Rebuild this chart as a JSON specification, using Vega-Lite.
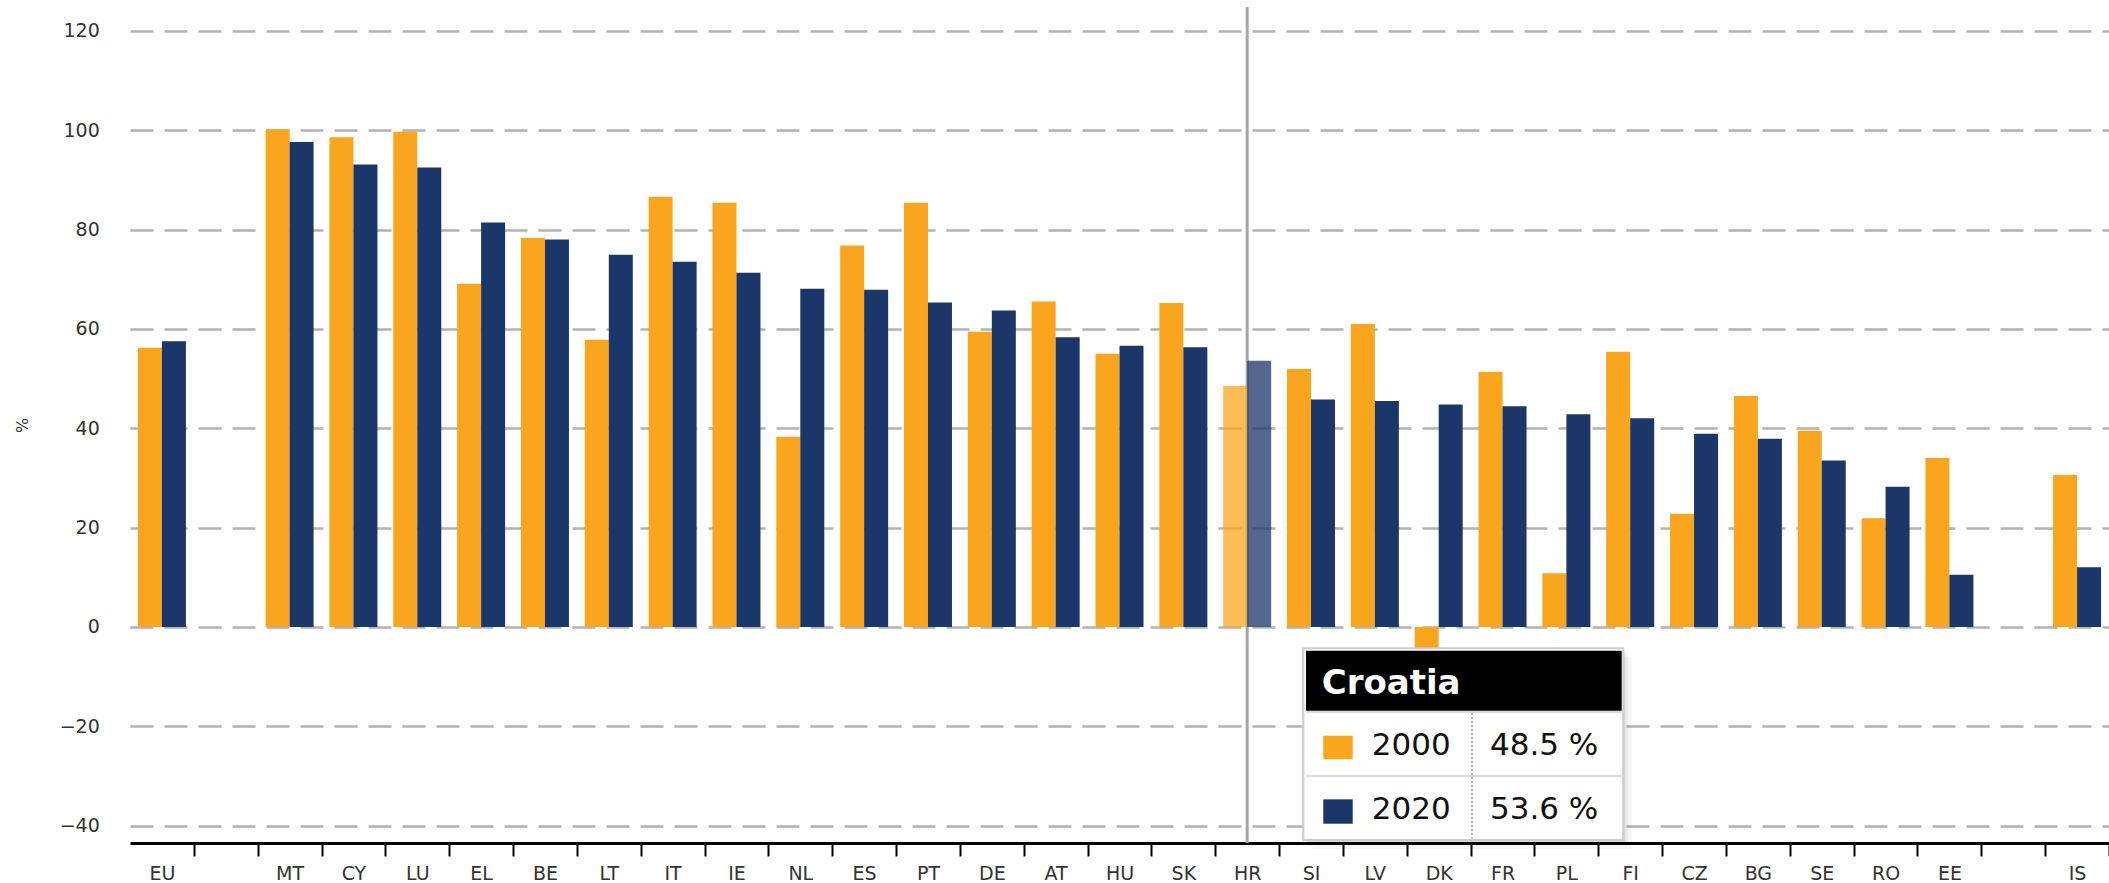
{
  "$schema": "https://vega.github.io/schema/vega-lite/v6.json",
  "autosize": "none",
  "padding": {"left": 126, "top": 7, "right": 0, "bottom": 40},
  "width": 1983,
  "height": 836,
  "background": "white",
  "config": {"view": {"stroke": null}, "font": "DejaVu Sans"},
  "data": {"values": [
    {"country": "EU", "name": "European Union", "year": "2000", "value": 56.2},
    {"country": "EU", "name": "European Union", "year": "2020", "value": 57.5},
    {"country": "MT", "name": "Malta", "year": "2000", "value": 100.2},
    {"country": "MT", "name": "Malta", "year": "2020", "value": 97.6},
    {"country": "CY", "name": "Cyprus", "year": "2000", "value": 98.6},
    {"country": "CY", "name": "Cyprus", "year": "2020", "value": 93.1},
    {"country": "LU", "name": "Luxembourg", "year": "2000", "value": 99.7},
    {"country": "LU", "name": "Luxembourg", "year": "2020", "value": 92.5},
    {"country": "EL", "name": "Greece", "year": "2000", "value": 69.1},
    {"country": "EL", "name": "Greece", "year": "2020", "value": 81.4},
    {"country": "BE", "name": "Belgium", "year": "2000", "value": 78.3},
    {"country": "BE", "name": "Belgium", "year": "2020", "value": 78.0},
    {"country": "LT", "name": "Lithuania", "year": "2000", "value": 57.8},
    {"country": "LT", "name": "Lithuania", "year": "2020", "value": 74.9},
    {"country": "IT", "name": "Italy", "year": "2000", "value": 86.6},
    {"country": "IT", "name": "Italy", "year": "2020", "value": 73.5},
    {"country": "IE", "name": "Ireland", "year": "2000", "value": 85.4},
    {"country": "IE", "name": "Ireland", "year": "2020", "value": 71.3},
    {"country": "NL", "name": "Netherlands", "year": "2000", "value": 38.3},
    {"country": "NL", "name": "Netherlands", "year": "2020", "value": 68.1},
    {"country": "ES", "name": "Spain", "year": "2000", "value": 76.8},
    {"country": "ES", "name": "Spain", "year": "2020", "value": 67.9},
    {"country": "PT", "name": "Portugal", "year": "2000", "value": 85.4},
    {"country": "PT", "name": "Portugal", "year": "2020", "value": 65.3},
    {"country": "DE", "name": "Germany", "year": "2000", "value": 59.4},
    {"country": "DE", "name": "Germany", "year": "2020", "value": 63.7},
    {"country": "AT", "name": "Austria", "year": "2000", "value": 65.5},
    {"country": "AT", "name": "Austria", "year": "2020", "value": 58.3},
    {"country": "HU", "name": "Hungary", "year": "2000", "value": 55.0},
    {"country": "HU", "name": "Hungary", "year": "2020", "value": 56.6},
    {"country": "SK", "name": "Slovakia", "year": "2000", "value": 65.2},
    {"country": "SK", "name": "Slovakia", "year": "2020", "value": 56.3},
    {"country": "HR", "name": "Croatia", "year": "2000", "value": 48.5},
    {"country": "HR", "name": "Croatia", "year": "2020", "value": 53.6},
    {"country": "SI", "name": "Slovenia", "year": "2000", "value": 51.9},
    {"country": "SI", "name": "Slovenia", "year": "2020", "value": 45.8},
    {"country": "LV", "name": "Latvia", "year": "2000", "value": 61.0},
    {"country": "LV", "name": "Latvia", "year": "2020", "value": 45.5},
    {"country": "DK", "name": "Denmark", "year": "2000", "value": -35.0},
    {"country": "DK", "name": "Denmark", "year": "2020", "value": 44.8},
    {"country": "FR", "name": "France", "year": "2000", "value": 51.3},
    {"country": "FR", "name": "France", "year": "2020", "value": 44.4},
    {"country": "PL", "name": "Poland", "year": "2000", "value": 10.8},
    {"country": "PL", "name": "Poland", "year": "2020", "value": 42.8},
    {"country": "FI", "name": "Finland", "year": "2000", "value": 55.4},
    {"country": "FI", "name": "Finland", "year": "2020", "value": 42.0},
    {"country": "CZ", "name": "Czechia", "year": "2000", "value": 22.8},
    {"country": "CZ", "name": "Czechia", "year": "2020", "value": 38.9},
    {"country": "BG", "name": "Bulgaria", "year": "2000", "value": 46.5},
    {"country": "BG", "name": "Bulgaria", "year": "2020", "value": 37.9},
    {"country": "SE", "name": "Sweden", "year": "2000", "value": 39.5},
    {"country": "SE", "name": "Sweden", "year": "2020", "value": 33.5},
    {"country": "RO", "name": "Romania", "year": "2000", "value": 21.9},
    {"country": "RO", "name": "Romania", "year": "2020", "value": 28.2},
    {"country": "EE", "name": "Estonia", "year": "2000", "value": 34.0},
    {"country": "EE", "name": "Estonia", "year": "2020", "value": 10.5},
    {"country": "IS", "name": "Iceland", "year": "2000", "value": 30.6},
    {"country": "IS", "name": "Iceland", "year": "2020", "value": 12.0}
  ]},
  "layer": [
    {
      "layer": [
        {
          "transform": [{"filter": "datum.country === 'HR' && datum.year === '2000'"}],
          "mark": {"type": "rule", "color": "#a6a6a6", "strokeWidth": 3},
          "encoding": {
            "x": {"field": "country", "type": "nominal", "sort": null,
              "scale": {"domain": ["EU","_g1","MT","CY","LU","EL","BE","LT","IT","IE","NL","ES","PT","DE","AT","HU","SK","HR","SI","LV","DK","FR","PL","FI","CZ","BG","SE","RO","EE","_g2","IS"], "range": [4, 1983], "paddingInner": 0, "paddingOuter": 0},
              "axis": {"title": null, "labelAngle": 0, "labelFontSize": 19, "labelColor": "#333333", "labelFont": "DejaVu Sans", "labelPadding": 8,
                "ticks": true, "tickSize": 13, "tickColor": "#000000", "tickWidth": 2, "tickOffset": 31.92, "labelOffset": -31.92,
                "domain": true, "domainColor": "#000000", "domainWidth": 3, "grid": false,
                "labelExpr": "slice(datum.value, 0, 1) === '_' ? '' : datum.label"}}
          }
        },
        {
          "mark": {"type": "bar"},
          "encoding": {
            "x": {"field": "country", "type": "nominal", "sort": null,
              "scale": {"domain": ["EU","_g1","MT","CY","LU","EL","BE","LT","IT","IE","NL","ES","PT","DE","AT","HU","SK","HR","SI","LV","DK","FR","PL","FI","CZ","BG","SE","RO","EE","_g2","IS"], "range": [4, 1983], "paddingInner": 0, "paddingOuter": 0},
              "axis": {"title": null, "labelAngle": 0, "labelFontSize": 19, "labelColor": "#333333", "labelFont": "DejaVu Sans", "labelPadding": 8,
                "ticks": true, "tickSize": 13, "tickColor": "#000000", "tickWidth": 2, "tickOffset": 31.92, "labelOffset": -31.92,
                "domain": true, "domainColor": "#000000", "domainWidth": 3, "grid": false,
                "labelExpr": "slice(datum.value, 0, 1) === '_' ? '' : datum.label"}},
            "xOffset": {"field": "year", "type": "nominal", "scale": {"paddingInner": 0, "paddingOuter": 0.33}},
            "y": {"field": "value", "type": "quantitative",
              "scale": {"domain": [-43.5, 124.8], "nice": false, "zero": false},
              "axis": {"values": [-40, -20, 0, 20, 40, 60, 80, 100, 120], "title": "%", "titleFontSize": 16, "titleFontWeight": "normal", "titleColor": "#333333", "titleFont": "DejaVu Sans", "titlePadding": 29,
                "labelFontSize": 19, "labelColor": "#333333", "labelFont": "DejaVu Sans", "labelPadding": 26.7, "ticks": false, "domain": false,
                "grid": true, "gridDash": [23, 11], "gridColor": "#b3b3b3", "gridWidth": 2.5}},
            "color": {"field": "year", "type": "nominal", "scale": {"domain": ["2000", "2020"], "range": ["#F9A61E", "#1B3668"]}, "legend": null},
            "opacity": {"condition": {"test": "datum.country === 'HR'", "value": 0.75}, "value": 1}
          }
        }
      ]
    },
    {
      "transform": [{"filter": "datum.country === 'HR'"}],
      "layer": [
        {
          "transform": [{"filter": "datum.year === '2000'"}],
          "mark": {"type": "rect", "fill": "#000000", "opacity": 0.07, "xOffset": 2, "x2Offset": 2, "yOffset": 2, "y2Offset": 2},
          "encoding": {
            "x": {"datum": 18.405, "type": "quantitative", "scale": {"domain": [0, 31], "nice": false, "zero": false}, "axis": null},
            "x2": {"datum": 23.407},
            "y": {"datum": -4.308, "type": "quantitative", "scale": {"domain": [-43.5, 124.8], "nice": false, "zero": false}, "axis": null},
            "y2": {"datum": -42.9}
          }
        },
        {
          "transform": [{"filter": "datum.year === '2000'"}],
          "mark": {"type": "rect", "fill": "#000000", "opacity": 0.05, "xOffset": 5, "x2Offset": 5, "yOffset": 5, "y2Offset": 5},
          "encoding": {
            "x": {"datum": 18.405, "type": "quantitative", "scale": {"domain": [0, 31], "nice": false, "zero": false}, "axis": null},
            "x2": {"datum": 23.407},
            "y": {"datum": -4.308, "type": "quantitative", "scale": {"domain": [-43.5, 124.8], "nice": false, "zero": false}, "axis": null},
            "y2": {"datum": -42.9}
          }
        },
        {
          "transform": [{"filter": "datum.year === '2000'"}],
          "mark": {"type": "rect", "fill": "#000000", "opacity": 0.03, "xOffset": 9, "x2Offset": 9, "yOffset": 9, "y2Offset": 9},
          "encoding": {
            "x": {"datum": 18.405, "type": "quantitative", "scale": {"domain": [0, 31], "nice": false, "zero": false}, "axis": null},
            "x2": {"datum": 23.407},
            "y": {"datum": -4.308, "type": "quantitative", "scale": {"domain": [-43.5, 124.8], "nice": false, "zero": false}, "axis": null},
            "y2": {"datum": -42.9}
          }
        },
        {
          "transform": [{"filter": "datum.year === '2000'"}],
          "mark": {"type": "rect", "fill": "#ffffff", "stroke": "#cccccc", "strokeWidth": 2},
          "encoding": {
            "x": {"datum": 18.405, "type": "quantitative", "scale": {"domain": [0, 31], "nice": false, "zero": false}, "axis": null},
            "x2": {"datum": 23.407},
            "y": {"datum": -4.308, "type": "quantitative", "scale": {"domain": [-43.5, 124.8], "nice": false, "zero": false}, "axis": null},
            "y2": {"datum": -42.9}
          }
        },
        {
          "transform": [{"filter": "datum.year === '2000'"}],
          "mark": {"type": "rect", "fill": "#000000"},
          "encoding": {
            "x": {"datum": 18.447, "type": "quantitative", "scale": {"domain": [0, 31], "nice": false, "zero": false}, "axis": null},
            "x2": {"datum": 23.382},
            "y": {"datum": -4.79, "type": "quantitative", "scale": {"domain": [-43.5, 124.8], "nice": false, "zero": false}, "axis": null},
            "y2": {"datum": -16.87}
          }
        },
        {
          "transform": [{"filter": "datum.year === '2000'"}],
          "mark": {"type": "rule", "color": "#d9d9d9", "strokeWidth": 2},
          "encoding": {
            "x": {"datum": 18.447, "type": "quantitative", "scale": {"domain": [0, 31], "nice": false, "zero": false}, "axis": null},
            "x2": {"datum": 23.382},
            "y": {"datum": -17.13, "type": "quantitative", "scale": {"domain": [-43.5, 124.8], "nice": false, "zero": false}, "axis": null}
          }
        },
        {
          "transform": [{"filter": "datum.year === '2000'"}],
          "mark": {"type": "rule", "color": "#d9d9d9", "strokeWidth": 2},
          "encoding": {
            "x": {"datum": 18.447, "type": "quantitative", "scale": {"domain": [0, 31], "nice": false, "zero": false}, "axis": null},
            "x2": {"datum": 23.382},
            "y": {"datum": -30.02, "type": "quantitative", "scale": {"domain": [-43.5, 124.8], "nice": false, "zero": false}, "axis": null}
          }
        },
        {
          "transform": [{"filter": "datum.year === '2000'"}],
          "mark": {"type": "rule", "color": "#999999", "strokeWidth": 1.5, "strokeDash": [2, 2]},
          "encoding": {
            "x": {"datum": 21.042, "type": "quantitative", "scale": {"domain": [0, 31], "nice": false, "zero": false}, "axis": null},
            "y": {"datum": -17.33, "type": "quantitative", "scale": {"domain": [-43.5, 124.8], "nice": false, "zero": false}, "axis": null},
            "y2": {"datum": -42.6}
          }
        },
        {
          "transform": [{"filter": "datum.year === '2000'"}],
          "mark": {"type": "text", "align": "left", "baseline": "alphabetic", "font": "DejaVu Sans", "fontSize": 34, "fontWeight": "bold", "color": "#ffffff"},
          "encoding": {
            "x": {"datum": 18.692, "type": "quantitative", "scale": {"domain": [0, 31], "nice": false, "zero": false}, "axis": null},
            "y": {"datum": -13.57, "type": "quantitative", "scale": {"domain": [-43.5, 124.8], "nice": false, "zero": false}, "axis": null},
            "text": {"field": "name"}
          }
        },
        {
          "transform": [{"filter": "datum.year === '2000'"}],
          "mark": {"type": "rect"},
          "encoding": {
            "x": {"datum": 18.717, "type": "quantitative", "scale": {"domain": [0, 31], "nice": false, "zero": false}, "axis": null},
            "x2": {"datum": 19.177},
            "y": {"datum": -21.9, "type": "quantitative", "scale": {"domain": [-43.5, 124.8], "nice": false, "zero": false}, "axis": null},
            "y2": {"datum": -26.65},
            "color": {"field": "year", "type": "nominal", "legend": null}
          }
        },
        {
          "transform": [{"filter": "datum.year === '2020'"}],
          "mark": {"type": "rect"},
          "encoding": {
            "x": {"datum": 18.717, "type": "quantitative", "scale": {"domain": [0, 31], "nice": false, "zero": false}, "axis": null},
            "x2": {"datum": 19.177},
            "y": {"datum": -34.71, "type": "quantitative", "scale": {"domain": [-43.5, 124.8], "nice": false, "zero": false}, "axis": null},
            "y2": {"datum": -39.62},
            "color": {"field": "year", "type": "nominal", "legend": null}
          }
        },
        {
          "transform": [{"filter": "datum.year === '2000'"}],
          "mark": {"type": "text", "align": "left", "baseline": "alphabetic", "font": "DejaVu Sans", "fontSize": 31, "color": "#111111"},
          "encoding": {
            "x": {"datum": 19.474, "type": "quantitative", "scale": {"domain": [0, 31], "nice": false, "zero": false}, "axis": null},
            "y": {"datum": -25.79, "type": "quantitative", "scale": {"domain": [-43.5, 124.8], "nice": false, "zero": false}, "axis": null},
            "text": {"field": "year"}
          }
        },
        {
          "transform": [{"filter": "datum.year === '2020'"}],
          "mark": {"type": "text", "align": "left", "baseline": "alphabetic", "font": "DejaVu Sans", "fontSize": 31, "color": "#111111"},
          "encoding": {
            "x": {"datum": 19.474, "type": "quantitative", "scale": {"domain": [0, 31], "nice": false, "zero": false}, "axis": null},
            "y": {"datum": -38.6, "type": "quantitative", "scale": {"domain": [-43.5, 124.8], "nice": false, "zero": false}, "axis": null},
            "text": {"field": "year"}
          }
        },
        {
          "transform": [{"filter": "datum.year === '2000'"}, {"calculate": "format(datum.value, '.1f') + ' %'", "as": "label"}],
          "mark": {"type": "text", "align": "left", "baseline": "alphabetic", "font": "DejaVu Sans", "fontSize": 31, "color": "#111111"},
          "encoding": {
            "x": {"datum": 21.323, "type": "quantitative", "scale": {"domain": [0, 31], "nice": false, "zero": false}, "axis": null},
            "y": {"datum": -25.79, "type": "quantitative", "scale": {"domain": [-43.5, 124.8], "nice": false, "zero": false}, "axis": null},
            "text": {"field": "label"}
          }
        },
        {
          "transform": [{"filter": "datum.year === '2020'"}, {"calculate": "format(datum.value, '.1f') + ' %'", "as": "label"}],
          "mark": {"type": "text", "align": "left", "baseline": "alphabetic", "font": "DejaVu Sans", "fontSize": 31, "color": "#111111"},
          "encoding": {
            "x": {"datum": 21.323, "type": "quantitative", "scale": {"domain": [0, 31], "nice": false, "zero": false}, "axis": null},
            "y": {"datum": -38.6, "type": "quantitative", "scale": {"domain": [-43.5, 124.8], "nice": false, "zero": false}, "axis": null},
            "text": {"field": "label"}
          }
        }
      ]
    }
  ],
  "resolve": {"scale": {"x": "independent", "y": "independent"}}
}
